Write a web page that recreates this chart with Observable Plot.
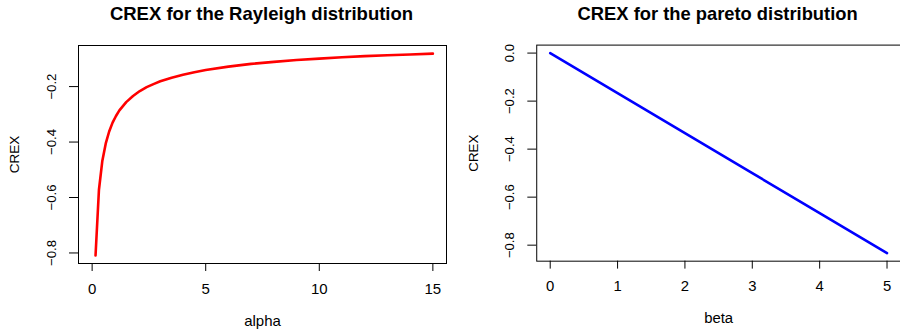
<!DOCTYPE html>
<html>
<head>
<meta charset="utf-8">
<script src="https://cdn.jsdelivr.net/npm/d3@7"></script>
<script src="https://cdn.jsdelivr.net/npm/@observablehq/plot@0.6"></script>
<style>
  html, body { margin: 0; padding: 0; background: #fff; }
  #wrap { display: flex; width: 900px; height: 333px; overflow: hidden; }
  .panel { width: 450px; height: 333px; overflow: hidden; flex: none; }
</style>
</head>
<body>
<div id="wrap"><div class="panel" id="left"></div><div class="panel" id="right"></div></div>
<script>
// Rayleigh panel data
const rayAlpha = [0.15, 0.3, 0.45, 0.6, 0.75, 0.9, 1.05, 1.2, 1.5, 1.8, 2.1, 2.4, 2.7, 3.0, 3.5, 4.0, 4.5, 5.0, 6.0, 7.0, 8.0, 9.0, 10.0, 11.0, 12.0, 13.0, 14.0, 15.0];
const rayCrex  = [-0.809, -0.572, -0.467, -0.405, -0.362, -0.330, -0.306, -0.286, -0.256, -0.234, -0.216, -0.202, -0.191, -0.181, -0.168, -0.157, -0.148, -0.140, -0.128, -0.118, -0.111, -0.104, -0.099, -0.094, -0.090, -0.087, -0.084, -0.081];
const rayXTicks = [0, 5, 10, 15];
const rayYTicks = [-0.8, -0.6, -0.4, -0.2];

// Pareto panel data
const parBeta = [0, 1, 2, 3, 4, 5];
const parCrex = [0, -0.1667, -0.3333, -0.5, -0.6667, -0.8333];
const parXTicks = [0, 1, 2, 3, 4, 5];
const parYTicks = [-0.8, -0.6, -0.4, -0.2, 0];

const titles = ["CREX for the Rayleigh distribution", "CREX for the pareto distribution"];
const xLabels = ["alpha", "beta"];
const yLabel = "CREX";

const FONT = "'Liberation Sans', Arial, Helvetica, sans-serif";
const fmtY = d3.format(".1f");

function panel({xs, ys, color, xTicks, yTicks, xDomain, yDomain, title, xLabel, width, marginLeft, marginRight}) {
  const data = xs.map((x, i) => ({x, y: ys[i]}));
  return Plot.plot({
    width, height: 333,
    marginLeft, marginRight, marginTop: 45, marginBottom: 70,
    style: {fontFamily: FONT, fontSize: "15px", color: "#000", background: "#fff"},
    x: {domain: xDomain, axis: null},
    y: {domain: yDomain, axis: null},
    marks: [
      Plot.frame({stroke: "#000", strokeWidth: 1}),
      Plot.axisX({ticks: xTicks, tickSize: 8, tickFormat: () => "", stroke: "#000", label: null}),
      Plot.axisY({ticks: yTicks, tickSize: 9, tickFormat: () => "", stroke: "#000", label: null}),
      Plot.text(xTicks, {x: d => d, text: d => String(d), frameAnchor: "bottom", dy: 25.5, lineAnchor: "middle", fontSize: 15, fill: "#000"}),
      Plot.text(yTicks, {y: d => d, text: d => fmtY(d), frameAnchor: "left", dx: -27, rotate: -90, textAnchor: "middle", lineAnchor: "middle", fontSize: 13.2, fill: "#000"}),
      Plot.line(data, {x: "x", y: "y", stroke: color, strokeWidth: 2.6}),
      Plot.text([title], {text: d => d, frameAnchor: "top", dy: -31.5, dx: -1, lineAnchor: "middle", fontSize: 18.5, fontWeight: "bold", fill: "#000"}),
      Plot.text([xLabel], {text: d => d, frameAnchor: "bottom", dy: 58, lineAnchor: "middle", fontSize: 15, fill: "#000"}),
      Plot.text([yLabel], {text: d => d, frameAnchor: "left", dx: -64, rotate: -90, textAnchor: "middle", lineAnchor: "middle", fontSize: 13.5, fill: "#000"})
    ]
  });
}

document.getElementById("left").appendChild(panel({
  xs: rayAlpha, ys: rayCrex, color: "#ff0000",
  xTicks: rayXTicks, yTicks: rayYTicks,
  xDomain: [-0.6, 15.6], yDomain: [-0.838, -0.0518],
  title: titles[0], xLabel: xLabels[0],
  width: 450, marginLeft: 78, marginRight: 4
}));

document.getElementById("right").appendChild(panel({
  xs: parBeta, ys: parCrex, color: "#0000ff",
  xTicks: parXTicks, yTicks: parYTicks,
  xDomain: [-0.2, 5.2], yDomain: [-0.8667, 0.0333],
  title: titles[1], xLabel: xLabels[1],
  width: 454, marginLeft: 87, marginRight: 0
}));
</script>
</body>
</html>
